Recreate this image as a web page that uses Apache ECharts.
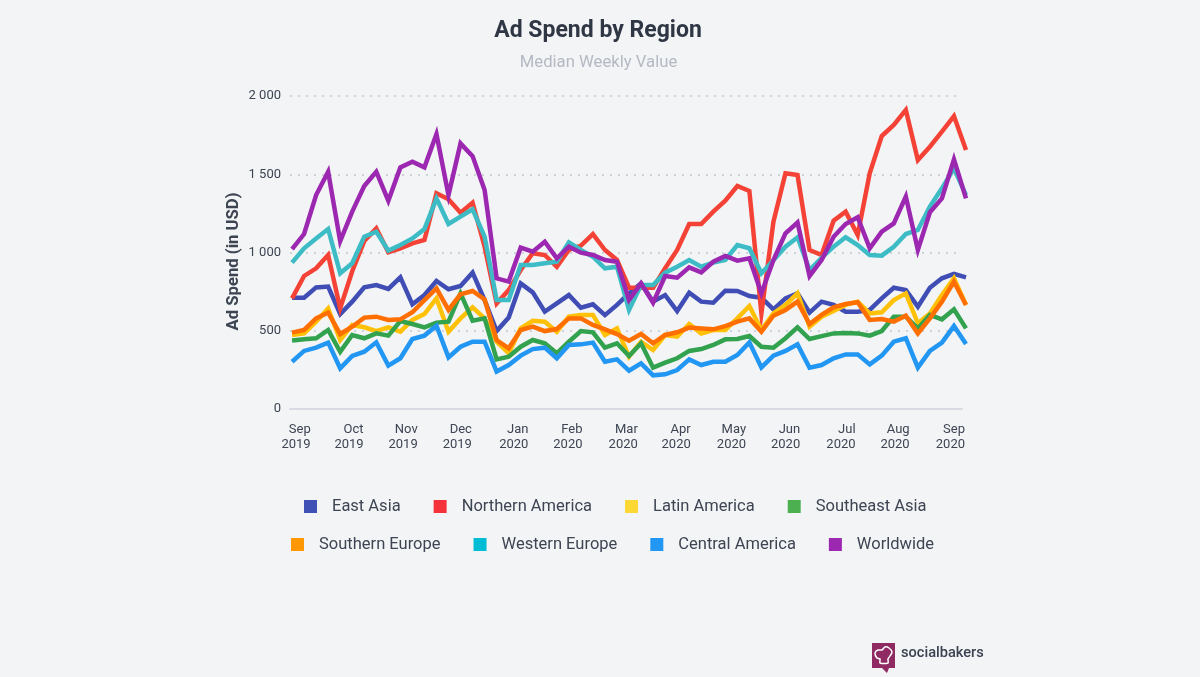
<!DOCTYPE html>
<html lang="en">
<head>
    <meta charset="UTF-8">
    <title>Ad Spend by Region</title>
    <script src="https://cdn.jsdelivr.net/npm/echarts@6/dist/echarts.min.js"></script>
    <style>
        html, body { margin: 0; background: #f3f4f6; }
        #main { width: 1200px; height: 677px; }
    </style>
</head>
<body>
    <div id="main"></div>
    <script type="text/javascript">
        // weekly values, 57 weeks from Sep 2019 to Sep 2020
        const eastAsia = [711,711,777,782,607,686,777,792,767,841,669,728,818,765,786,871,696,498,584,803,745,622,675,728,647,669,600,665,739,803,686,728,626,743,686,679,756,754,722,711,637,707,739,616,686,665,622,622,633,707,775,760,654,775,835,863,841]
        const northernAmerica = [707,850,899,984,643,880,1073,1154,1001,1027,1058,1080,1378,1340,1254,1318,1037,675,760,888,995,984,909,1016,1044,1118,1016,952,775,775,775,899,1016,1182,1182,1261,1331,1425,1393,611,1197,1506,1495,1016,984,1203,1261,1112,1506,1744,1815,1911,1591,1676,1772,1872,1655]
        const latinAmerica = [473,483,558,643,441,537,522,498,522,494,569,607,707,494,579,650,579,430,356,515,564,558,494,590,601,601,473,515,334,430,377,473,462,543,483,505,505,579,658,505,611,665,739,526,590,626,665,686,611,618,696,739,547,611,728,835,665]
        const southeastAsia = [437,445,452,505,366,473,452,483,469,562,543,522,552,558,739,564,579,317,334,398,441,420,356,430,498,490,392,420,339,420,264,296,324,371,383,409,445,447,466,398,392,452,522,447,466,483,486,483,469,498,590,590,515,601,573,637,515]
        const southernEurope = [488,505,579,616,479,526,584,590,569,573,618,696,771,633,733,754,701,441,388,505,526,498,511,579,579,537,509,479,437,479,420,473,490,520,515,509,530,558,579,494,596,633,686,543,601,650,671,682,569,575,558,596,483,579,686,814,665]
        const westernEurope = [935,1027,1090,1150,867,931,1101,1133,1012,1048,1090,1150,1346,1182,1229,1276,1101,696,696,920,920,931,941,1065,1016,973,899,909,633,792,792,871,909,952,909,935,952,1048,1027,867,950,1037,1097,888,965,1037,1097,1048,984,980,1037,1118,1144,1293,1410,1538,1367]
        const centralAmerica = [302,371,392,424,260,339,366,426,277,324,447,469,532,330,398,430,430,239,281,341,383,392,324,409,413,424,302,317,245,292,215,222,249,317,281,302,302,345,426,266,341,371,413,264,281,324,349,349,285,341,430,452,264,371,424,530,415]
        const worldwide = [1022,1118,1367,1516,1073,1261,1425,1516,1331,1544,1580,1544,1757,1367,1697,1616,1399,835,814,1031,1005,1069,963,1037,999,984,952,941,696,803,679,850,839,905,873,941,978,948,963,739,952,1122,1191,850,952,1101,1182,1225,1027,1133,1186,1357,1016,1257,1346,1595,1346]

        const regionNames = ['East Asia', 'Northern America', 'Latin America', 'Southeast Asia', 'Southern Europe', 'Western Europe', 'Central America', 'Worldwide']
        const regionValues = [eastAsia, northernAmerica, latinAmerica, southeastAsia, southernEurope, westernEurope, centralAmerica, worldwide]
        const lineColors = ['#3f4db5', '#f44336', '#ffc107', '#33a24f', '#ff6f00', '#3dbcc6', '#2196f3', '#9c27b0']
        const legendColors = ['#3f51b5', '#f5323a', '#fdd835', '#4caf50', '#ff9800', '#00bcd4', '#2196f3', '#9c27b0']

        const tickWeeks = [1.3, 5.7, 10.2, 14.7, 19.4, 23.9, 28.5, 32.9, 37.5, 42, 46.6, 51.1, 55.7]
        const tickLabels = ['Sep\n2019', 'Oct\n2019', 'Nov\n2019', 'Dec\n2019', 'Jan\n2020', 'Feb\n2020', 'Mar\n2020', 'Apr\n2020', 'May\n2020', 'Jun\n2020', 'Jul\n2020', 'Aug\n2020', 'Sep\n2020']

        const textColor = '#3d4452'
        const font = 'Roboto'

        let myChart = echarts.init(document.getElementById('main'))

        function legendRow(names, top, left) {
            return {
                data: names,
                left: left,
                top: top,
                orient: 'horizontal',
                icon: 'rect',
                itemWidth: 13,
                itemHeight: 13,
                itemGap: 33,
                padding: 0,
                textStyle: { color: textColor, fontFamily: font, fontSize: 16.5, padding: [0, 0, 0, 10] }
            }
        }

        myChart.setOption({
            backgroundColor: '#f3f4f6',
            animation: false,
            title: [
                { text: 'Ad Spend by Region', left: 593, top: 15, textAlign: 'center', textStyle: { color: '#2f3644', fontFamily: font, fontSize: 23, fontWeight: 'bold' } },
                { text: 'Median Weekly Value', left: 593.5, top: 49, textAlign: 'center', textStyle: { color: '#b4b9c3', fontFamily: font, fontSize: 16.7, fontWeight: 'normal' } }
            ],
            legend: [
                legendRow(regionNames.slice(0, 4), 498, 304),
                legendRow(regionNames.slice(4), 536, 291)
            ],
            // first grid shows the axes, the lines run a little past its right end in the second
            grid: [
                { left: 290, top: 96, width: 672, height: 313 },
                { left: 290, top: 96, width: 676, height: 313 }
            ],
            xAxis: [
                {
                    gridIndex: 0,
                    type: 'value',
                    min: -0.17,
                    max: 55.7,
                    splitLine: { show: false },
                    axisTick: { show: false },
                    axisLine: { show: true, lineStyle: { color: '#d8dae4', width: 2 } },
                    axisLabel: {
                        customValues: tickWeeks,
                        formatter: function (value) {
                            return tickLabels[tickWeeks.indexOf(value)] || ''
                        },
                        align: 'right',
                        padding: [0, -3, 0, 0],
                        margin: 13,
                        color: textColor,
                        fontFamily: font,
                        fontSize: 13,
                        lineHeight: 15,
                        hideOverlap: false
                    }
                },
                { gridIndex: 1, type: 'value', min: -0.17, max: 56, show: false }
            ],
            yAxis: [
                {
                    gridIndex: 0,
                    type: 'value',
                    min: 0,
                    max: 2000,
                    interval: 500,
                    name: 'Ad Spend (in USD)',
                    nameLocation: 'middle',
                    nameMoveOverlap: false,
                    nameGap: 48,
                    nameTextStyle: { color: textColor, fontFamily: font, fontSize: 16.7, fontWeight: 'bold', padding: [0, 18, 0, 0] },
                    axisLine: { show: false },
                    axisTick: { show: false },
                    splitLine: { lineStyle: { color: '#cfd2d9', width: 2, type: [2, 6] } },
                    axisLabel: {
                        formatter: function (value) {
                            return String(value).replace(/\B(?=(\d{3})+$)/, ' ')
                        },
                        margin: 9,
                        color: textColor,
                        fontFamily: font,
                        fontSize: 13,
                        padding: [2, 0, 0, 0]
                    }
                },
                { gridIndex: 1, type: 'value', min: 0, max: 2000, show: false }
            ],
            series: regionNames.map(function (name, i) {
                return {
                    name: name,
                    type: 'line',
                    xAxisIndex: 1,
                    yAxisIndex: 1,
                    clip: false,
                    showSymbol: false,
                    symbol: 'none',
                    data: regionValues[i].map(function (v, week) { return [week, v] }),
                    lineStyle: { color: lineColors[i], width: 4.5, join: 'miter' },
                    itemStyle: { color: legendColors[i] },
                    emphasis: { disabled: true }
                }
            }),
            graphic: [
                // logo bottom right
                {
                    type: 'polygon',
                    shape: { points: [[872, 643], [895, 643], [895, 668], [889, 668], [887, 673], [882, 668], [872, 668]] },
                    style: { fill: '#8f2a62' }
                },
                {
                    type: 'polygon',
                    shape: { points: [[877, 658], [875, 653], [878, 650], [882, 650], [885, 647], [889, 648], [892, 652], [890, 656], [888, 659], [888, 663], [880, 663], [880, 659]], smooth: 0.3 },
                    style: { fill: 'none', stroke: '#ffffff', lineWidth: 1.5 }
                },
                {
                    type: 'text',
                    left: 901,
                    top: 646,
                    style: { text: 'socialbakers', fill: '#3a4150', font: '500 14.6px Roboto' }
                }
            ]
        })
    </script>
</body>
</html>
